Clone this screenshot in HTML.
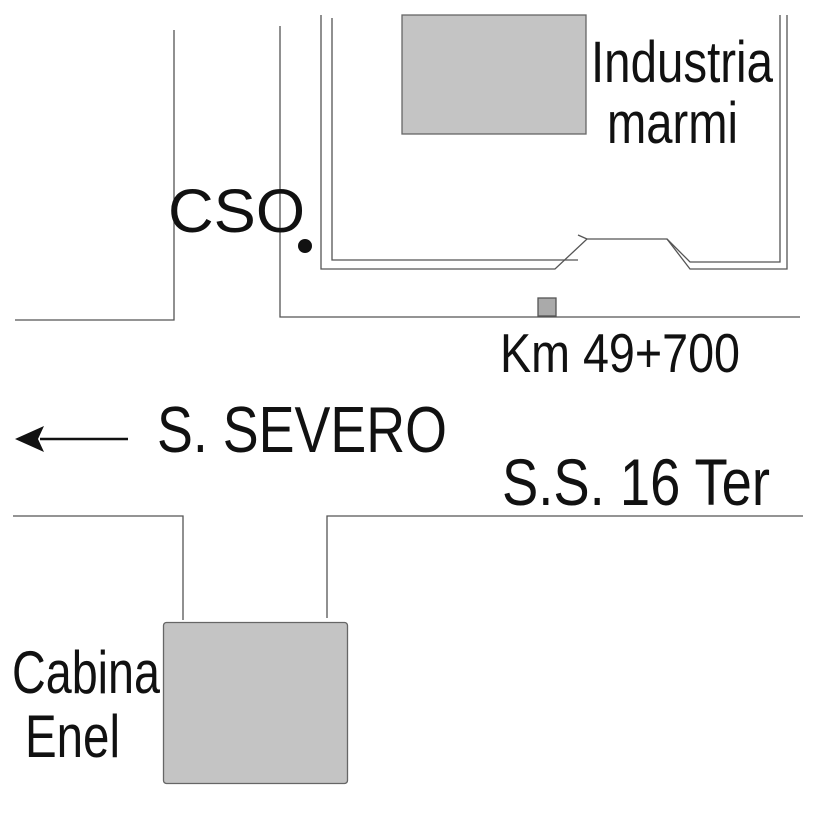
<!DOCTYPE html>
<html><head><meta charset="utf-8"><style>html,body{margin:0;padding:0;background:#fff}svg{display:block}</style></head>
<body>
<svg width="827" height="827" viewBox="0 0 827 827" xmlns="http://www.w3.org/2000/svg" font-family="Liberation Sans, sans-serif" fill="#111">
<g stroke="#555" stroke-width="1.3" fill="none">
<polyline points="174,30 174,320 15,320"/>
<polyline points="280,26 280,317 800,317"/>
<polyline points="321,15 321,269 555,269 587,239 667,239 690,269 787,269 787,15"/>
<polyline points="332,18 332,260 578,260"/>
<line x1="578" y1="235" x2="587" y2="239"/>
<polyline points="667,239 690,262 780,262 780,15"/>
<polyline points="13,516 183,516 183,620"/>
<polyline points="327,618 327,516 803,516"/>
</g>
<rect x="402" y="15" width="184" height="119" fill="#c4c4c4" stroke="#666" stroke-width="1.3"/>
<rect x="538" y="298" width="18" height="18" fill="#aaa" stroke="#555" stroke-width="1.3"/>
<rect x="163.5" y="622.5" width="184" height="161" rx="3" fill="#c4c4c4" stroke="#666" stroke-width="1.3"/>
<circle cx="305" cy="246" r="7" fill="#111"/>
<line x1="40" y1="439" x2="128" y2="439" stroke="#111" stroke-width="2.5"/>
<polygon points="15,439 44,426 38,439 44,452" fill="#111"/>
<text x="168" y="232" font-size="61" textLength="137" lengthAdjust="spacingAndGlyphs">CSO</text>
<text x="591" y="82" font-size="58" textLength="182" lengthAdjust="spacingAndGlyphs">Industria</text>
<text x="607" y="143" font-size="58" textLength="131" lengthAdjust="spacingAndGlyphs">marmi</text>
<text x="500" y="372" font-size="55" textLength="240" lengthAdjust="spacingAndGlyphs">Km 49+700</text>
<text x="157" y="452" font-size="65" textLength="290" lengthAdjust="spacingAndGlyphs">S. SEVERO</text>
<text x="502" y="505" font-size="66" textLength="268" lengthAdjust="spacingAndGlyphs">S.S. 16 Ter</text>
<text x="12" y="693" font-size="60" textLength="148" lengthAdjust="spacingAndGlyphs">Cabina</text>
<text x="25" y="757" font-size="60" textLength="95" lengthAdjust="spacingAndGlyphs">Enel</text>
</svg>
</body></html>
